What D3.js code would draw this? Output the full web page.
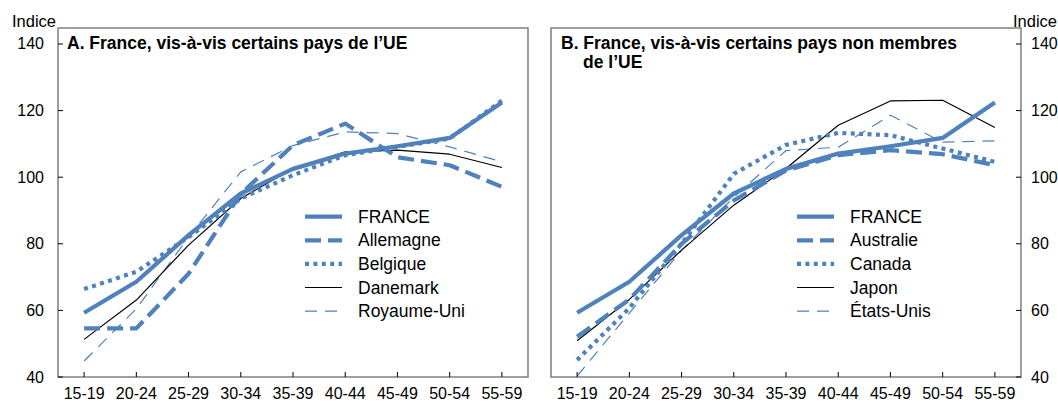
<!DOCTYPE html>
<html>
<head>
<meta charset="utf-8">
<script src="https://cdn.jsdelivr.net/npm/d3@7/dist/d3.min.js"></script>
<style>
  html, body { margin: 0; padding: 0; background: #fff; }
  svg { display: block; }
  .tick-label { font-family: "Liberation Sans Narrow", "Arial Narrow", "Liberation Sans", Arial, sans-serif; font-size: 16px; fill: #000; }
  .txt { font-family: "Liberation Sans", Arial, sans-serif; fill: #000; }
</style>
</head>
<body>
<svg id="chart" width="1058" height="405"></svg>
<script>
// Age groups
const categories = ["15-19", "20-24", "25-29", "30-34", "35-39", "40-44", "45-49", "50-54", "55-59"];
const yTicks = [40, 60, 80, 100, 120, 140];

// Panel A series (index)
const france     = [59.3, 68.6, 82.6, 95.1, 102.5, 107.1, 109.3, 111.8, 122.4];
const allemagne  = [54.6, 54.6, 71.0, 95.0, 109.6, 116.1, 106.0, 103.6, 97.1];
const belgique   = [66.4, 71.6, 82.0, 93.6, 100.6, 106.6, 109.1, 111.6, 123.0];
const danemark   = [51.3, 63.1, 79.6, 93.6, 102.6, 107.6, 108.1, 106.9, 102.9];
const royaumeUni = [44.8, 60.5, 82.0, 101.6, 109.5, 113.6, 113.1, 109.1, 104.6];

// Panel B series (index)
const australie  = [52.1, 63.3, 80.0, 93.0, 102.0, 106.6, 108.1, 106.9, 103.6];
const canada     = [45.1, 60.7, 80.0, 101.0, 109.7, 113.3, 112.6, 108.6, 104.6];
const japon      = [50.9, 63.3, 78.1, 91.6, 102.6, 115.6, 122.9, 123.1, 114.9];
const etatsUnis  = [40.3, 59.2, 78.0, 94.0, 108.0, 109.0, 118.6, 110.5, 110.9];

const BLUE = "#4F81BD";
const styles = {
  thick:  { stroke: BLUE, width: 4.2, dash: null },
  dashed: { stroke: BLUE, width: 4.2, dash: "16,7" },
  dotted: { stroke: BLUE, width: 4.2, dash: "4,4.4" },
  thin:   { stroke: "#000", width: 1.2, dash: null },
  thinDash: { stroke: BLUE, width: 1.2, dash: "12,8" }
};

const svg = d3.select("#chart");
const plotTop = 28, plotBottom = 377;
const y = d3.scaleLinear().domain([40, 144.8]).range([plotBottom, plotTop]);

function panel(opts) {
  const x = d3.scalePoint().domain(categories).range([opts.x0, opts.x1]).padding(0.5);
  const g = svg.append("g");

  // series, thin first so the France line sits on top
  const line = d3.line().x((d, i) => x(categories[i])).y(d => y(d));
  opts.series.slice().reverse().forEach(s => {
    const st = styles[s.style];
    g.append("path")
      .attr("d", line(s.values))
      .attr("fill", "none")
      .attr("stroke", st.stroke)
      .attr("stroke-width", st.width)
      .attr("stroke-dasharray", st.dash)
      .attr("stroke-linejoin", "round");
  });

  // frame
  g.append("rect")
    .attr("x", opts.x0).attr("y", plotTop)
    .attr("width", opts.x1 - opts.x0).attr("height", plotBottom - plotTop)
    .attr("fill", "none").attr("stroke", "#7f7f7f").attr("stroke-width", 1.5);

  // x ticks (inside) and labels
  categories.forEach(c => {
    g.append("line").attr("x1", x(c)).attr("x2", x(c))
      .attr("y1", plotBottom).attr("y2", plotBottom - 5).attr("stroke", "#000").attr("stroke-width", 1);
    g.append("text").attr("class", "tick-label")
      .attr("x", x(c)).attr("y", 399).attr("text-anchor", "middle").text(c);
  });

  // y ticks (inside) and labels
  const side = opts.axisSide;
  const ax = side === "left" ? opts.x0 : opts.x1;
  const dir = side === "left" ? 1 : -1;
  yTicks.forEach(t => {
    g.append("line").attr("x1", ax).attr("x2", ax + dir * 5)
      .attr("y1", y(t)).attr("y2", y(t)).attr("stroke", "#000").attr("stroke-width", 1);
    g.append("text").attr("class", "tick-label")
      .attr("x", side === "left" ? 44 : 1031)
      .attr("y", y(t) + 5.5)
      .attr("text-anchor", side === "left" ? "end" : "start")
      .text(t);
  });
  g.append("text").attr("class", "txt")
    .attr("x", side === "left" ? 12 : 1057).attr("y", 27)
    .attr("text-anchor", side === "left" ? "start" : "end")
    .style("font-size", "16.5px").text("Indice");

  // title (one text element per line)
  opts.title.forEach((t, i) => {
    g.append("text").attr("class", "txt")
      .style("font-size", "17.5px").style("font-weight", "bold")
      .attr("x", opts.titleX + (i ? opts.titleIndent : 0))
      .attr("y", 48.5 + i * 19.6).text(t);
  });

  // legend
  opts.series.forEach((s, i) => {
    const st = styles[s.style];
    const ly = 216.7 + i * 23.6;
    g.append("line")
      .attr("x1", opts.legendX).attr("x2", opts.legendX + 37)
      .attr("y1", ly).attr("y2", ly)
      .attr("stroke", st.stroke).attr("stroke-width", st.width)
      .attr("stroke-dasharray", st.dash);
    g.append("text").attr("class", "txt")
      .attr("x", opts.legendX + 53).attr("y", ly + 6)
      .style("font-size", "17.5px").text(s.name);
  });
}

panel({
  x0: 58, x1: 528, axisSide: "left",
  title: ["A. France, vis-à-vis certains pays de l’UE"], titleX: 67, titleIndent: 0,
  legendX: 305,
  series: [
    { name: "FRANCE", values: france, style: "thick" },
    { name: "Allemagne", values: allemagne, style: "dashed" },
    { name: "Belgique", values: belgique, style: "dotted" },
    { name: "Danemark", values: danemark, style: "thin" },
    { name: "Royaume-Uni", values: royaumeUni, style: "thinDash" }
  ]
});

panel({
  x0: 551, x1: 1021, axisSide: "right",
  title: ["B. France, vis-à-vis certains pays non membres", "de l’UE"], titleX: 561, titleIndent: 22,
  legendX: 797,
  series: [
    { name: "FRANCE", values: france, style: "thick" },
    { name: "Australie", values: australie, style: "dashed" },
    { name: "Canada", values: canada, style: "dotted" },
    { name: "Japon", values: japon, style: "thin" },
    { name: "États-Unis", values: etatsUnis, style: "thinDash" }
  ]
});
</script>
</body>
</html>
